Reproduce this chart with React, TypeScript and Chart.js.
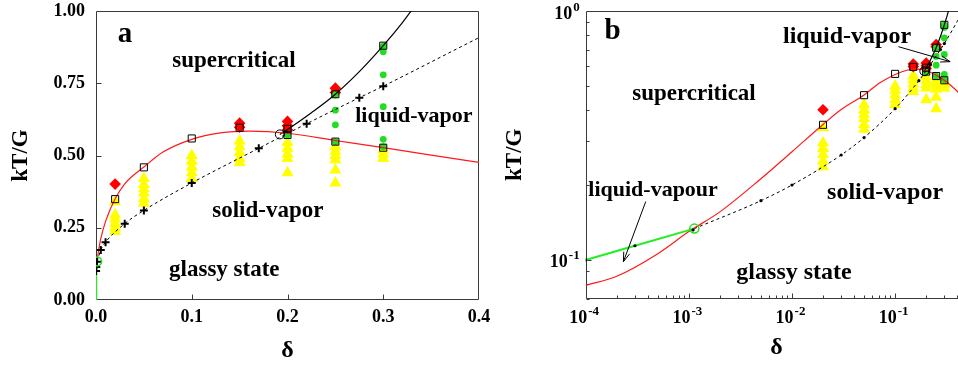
import React, { useEffect, useRef } from "react";
import { Chart, registerables } from "chart.js";

Chart.register(...registerables);

// ---------------- data (delta, kT/G) ----------------
const redDelta = [1e-4, 2e-4, 5e-4, 1e-3, 2e-3, 5e-3, 0.01, 0.02, 0.03, 0.05, 0.07, 0.1, 0.13, 0.16, 0.2, 0.25, 0.3, 0.35, 0.4, 0.5];
const redKT = [0.079, 0.086, 0.106, 0.13, 0.156, 0.212, 0.272, 0.35, 0.402, 0.46, 0.512, 0.556, 0.578, 0.584, 0.577, 0.552, 0.527, 0.501, 0.476, 0.43];

const blackDelta = [0.192, 0.2, 0.225, 0.25, 0.275, 0.3, 0.32, 0.34];
const blackKT = [0.573, 0.59, 0.648, 0.712, 0.79, 0.88, 0.96, 1.05];

const dashDelta = [1.13e-3, 5e-3, 0.01, 0.03, 0.05, 0.1, 0.17, 0.22, 0.275, 0.3, 0.4, 0.5];
const dashKT = [0.1336, 0.173, 0.2, 0.264, 0.31, 0.405, 0.525, 0.61, 0.7, 0.74, 0.908, 1.075];

const greenDelta = [0, 1e-4, 3e-4, 1.13e-3];
const greenKT = [0, 0.1, 0.114, 0.1336];

const plusDelta = [1e-4, 3e-4, 1.1e-3, 5e-3, 0.01, 0.03, 0.05, 0.1, 0.17, 0.22, 0.275, 0.3];
const plusKT = [0.1, 0.114, 0.132, 0.173, 0.2, 0.264, 0.31, 0.405, 0.525, 0.61, 0.7, 0.74];

const triDelta = [
  0.02, 0.02, 0.02, 0.02, 0.02, 0.02,
  0.05, 0.05, 0.05, 0.05, 0.05, 0.05,
  0.1, 0.1, 0.1, 0.1, 0.1,
  0.15, 0.15, 0.15, 0.15, 0.15,
  0.2, 0.2, 0.2, 0.2, 0.2,
  0.25, 0.25, 0.25, 0.25, 0.25, 0.25,
  0.3, 0.3, 0.3,
];
const triKT = [
  0.34, 0.295, 0.28, 0.265, 0.25, 0.237,
  0.42, 0.4, 0.385, 0.37, 0.35, 0.335,
  0.5, 0.48, 0.46, 0.44, 0.42,
  0.55, 0.53, 0.51, 0.49, 0.475,
  0.545, 0.525, 0.505, 0.49, 0.44,
  0.53, 0.515, 0.5, 0.485, 0.45, 0.405,
  0.52, 0.505, 0.49,
];

const diamondDelta = [0.02, 0.15, 0.15, 0.2, 0.2, 0.2, 0.25, 0.25];
const diamondKT = [0.401, 0.612, 0.598, 0.618, 0.603, 0.588, 0.733, 0.718];

const greenDotDelta = [0.2, 0.25, 0.25, 0.25, 0.25, 0.3, 0.3, 0.3, 0.3, 0.3, 0.3];
const greenDotKT = [0.571, 0.71, 0.657, 0.606, 0.548, 0.878, 0.859, 0.779, 0.669, 0.556, 0.53];

const squareDelta = [0.02, 0.05, 0.1, 0.15, 0.2, 0.2, 0.25, 0.25, 0.3, 0.3];
const squareKT = [0.349, 0.459, 0.559, 0.596, 0.592, 0.571, 0.712, 0.548, 0.88, 0.527];

const tripleDelta = [0.192];
const tripleKT = [0.573];

const greenCircleDelta = [1.13e-3];
const greenCircleKT = [0.1336];

// ticks
const xTickValuesA = [0, 0.1, 0.2, 0.3, 0.4];
const xTickLabelsA = ["0.0", "0.1", "0.2", "0.3", "0.4"];
const yTickValuesA = [0, 0.25, 0.5, 0.75, 1];
const yTickLabelsA = ["0.00", "0.25", "0.50", "0.75", "1.00"];
const xTickValuesB = [1e-4, 1e-3, 1e-2, 1e-1];
const xTickExpB = ["-4", "-3", "-2", "-1"];
const yTickValuesB = [0.1, 1];
const yTickExpB = ["-1", "0"];
const xMinorB = [2e-4, 3e-4, 4e-4, 5e-4, 6e-4, 7e-4, 8e-4, 9e-4, 2e-3, 3e-3, 4e-3, 5e-3, 6e-3, 7e-3, 8e-3, 9e-3, 0.02, 0.03, 0.04, 0.05, 0.06, 0.07, 0.08, 0.09, 0.2, 0.3, 0.4, 0.5];
const yMinorB = [0.07, 0.08, 0.09, 0.2, 0.3, 0.4, 0.5, 0.6, 0.7, 0.8, 0.9];

// annotations (data coordinates)
const labelsA = [
  { text: "a", x: 0.0303, y: 0.894, size: 29 },
  { text: "supercritical", x: 0.1441, y: 0.807, size: 23 },
  { text: "liquid-vapor", x: 0.332, y: 0.617, size: 22 },
  { text: "solid-vapor", x: 0.1795, y: 0.288, size: 23 },
  { text: "glassy state", x: 0.134, y: 0.083, size: 23 },
];
const labelsB = [
  { text: "b", x: 1.82e-4, y: 0.77, size: 29 },
  { text: "supercritical", x: 1.122e-3, y: 0.439, size: 23 },
  { text: "liquid-vapor", x: 0.0342, y: 0.746, size: 24 },
  { text: "liquid-vapour", x: 4.5e-4, y: 0.1807, size: 22 },
  { text: "solid-vapor", x: 0.08, y: 0.1758, size: 24 },
  { text: "glassy state", x: 0.01047, y: 0.0836, size: 24 },
];
const arrowsB = [
  { x1: 0.1076, y1: 0.719, x2: 0.3416, y2: 0.626 },
  { x1: 3.82e-4, y1: 0.1715, x2: 2.32e-4, y2: 0.0984 },
];

const FONT = "'Liberation Serif', 'Times New Roman', 'DejaVu Serif', serif";

type XY = { x: number; y: number };
const zip = (xs: number[], ys: number[], log: boolean): XY[] =>
  xs.map((x, i) => ({ x, y: ys[i] })).filter((p) => !log || p.x > 0);

function buildDatasets(log: boolean): any[] {
  const clear = "rgba(0,0,0,0)";
  return [
    {
      data: zip(greenCircleDelta, greenCircleKT, log), pointStyle: "circle", pointRadius: 4.5,
      borderColor: "#22dd22", backgroundColor: clear, borderWidth: 1.5, order: 0,
    },
    {
      data: zip(tripleDelta, tripleKT, log), pointStyle: "circle", pointRadius: 4.5,
      borderColor: "#000", backgroundColor: clear, borderWidth: 1, order: 1,
    },
    log
      ? {
          data: zip(plusDelta, plusKT, log), pointStyle: "circle", pointRadius: 1.6,
          borderColor: "#000", backgroundColor: "#000", borderWidth: 0, order: 2,
        }
      : {
          data: zip(plusDelta, plusKT, log), pointStyle: "cross", pointRadius: 4,
          borderColor: "#000", backgroundColor: "#000", borderWidth: 2, order: 2,
        },
    {
      data: zip(squareDelta, squareKT, log), pointStyle: "rect", pointRadius: 5,
      borderColor: "#000", backgroundColor: clear, borderWidth: 1, order: 3,
    },
    {
      data: zip(greenDelta, greenKT, log), showLine: true, pointRadius: 0,
      borderColor: "#22ee22", borderWidth: 2, order: 4,
    },
    {
      data: zip(redDelta, redKT, log), showLine: true, pointRadius: 0, cubicInterpolationMode: "monotone",
      borderColor: "#ff1a1a", borderWidth: 1.2, order: 5,
    },
    {
      data: zip(blackDelta, blackKT, log), showLine: true, pointRadius: 0, cubicInterpolationMode: "monotone",
      borderColor: "#000", borderWidth: 1.2, order: 6,
    },
    {
      data: zip(dashDelta, dashKT, log), showLine: true, pointRadius: 0, cubicInterpolationMode: "monotone",
      borderColor: "#000", borderWidth: 1, borderDash: [3, 3], order: 7,
    },
    {
      data: zip(greenDotDelta, greenDotKT, log), pointStyle: "circle", pointRadius: 3.4,
      borderColor: "#22dd22", backgroundColor: "#22dd22", borderWidth: 0, order: 8,
    },
    {
      data: zip(diamondDelta, diamondKT, log), pointStyle: "rectRot", pointRadius: 5.8,
      borderColor: "#ff0000", backgroundColor: "#ff0000", borderWidth: 0, order: 9,
    },
    {
      data: zip(triDelta, triKT, log), pointStyle: "triangle", pointRadius: 7,
      borderColor: "#ffff00", backgroundColor: "#ffff00", borderWidth: 0, order: 10,
    },
  ];
}

function drawPower(ctx: any, exp: string, x: number, y: number, align: "center" | "right") {
  ctx.font = `bold 18px ${FONT}`;
  const w1 = ctx.measureText("10").width;
  ctx.font = `bold 13px ${FONT}`;
  const w2 = ctx.measureText(exp).width;
  const total = w1 + 1 + w2;
  const start = align === "center" ? x - total / 2 : x - total;
  ctx.textAlign = "left";
  ctx.textBaseline = "alphabetic";
  ctx.font = `bold 18px ${FONT}`;
  ctx.fillText("10", start, y);
  ctx.font = `bold 13px ${FONT}`;
  ctx.fillText(exp, start + w1 + 1, y - 8);
}

const framePlugin = {
  id: "frame",
  beforeDatasetsDraw(chart: any, _args: any, o: any) {
    const { ctx, chartArea: ca } = chart;
    const xs = chart.scales.x;
    const ys = chart.scales.y;
    const L = Math.round(ca.left) + 0.5;
    const R = Math.round(ca.right) - 0.5;
    const T = Math.round(ca.top) + 0.5;
    const B = Math.round(ca.bottom) - 0.5;
    ctx.save();
    ctx.strokeStyle = "#3a3a3a";
    ctx.lineWidth = 1;
    ctx.beginPath();
    ctx.moveTo(L, T);
    ctx.lineTo(R, T);
    ctx.lineTo(R, B);
    ctx.lineTo(L, B);
    ctx.closePath();
    ctx.stroke();
    ctx.beginPath();
    const xt = (vals: number[], len: number) => {
      for (const v of vals) {
        const p = Math.round(xs.getPixelForValue(v)) + 0.5;
        ctx.moveTo(p, B);
        ctx.lineTo(p, B - len);
      }
    };
    const yt = (vals: number[], len: number) => {
      for (const v of vals) {
        const p = Math.round(ys.getPixelForValue(v)) + 0.5;
        ctx.moveTo(L, p);
        ctx.lineTo(L + len, p);
      }
    };
    xt(o.xMajor || [], 5);
    xt(o.xMinor || [], 3);
    yt(o.yMajor || [], 5);
    yt(o.yMinor || [], 3);
    ctx.stroke();
    ctx.fillStyle = "#000";
    if (o.powX) {
      o.powX.values.forEach((v: number, i: number) => {
        drawPower(ctx, o.powX.exps[i], xs.getPixelForValue(v) - 1.5, ca.bottom + 24.5, "center");
      });
    }
    if (o.powY) {
      o.powY.values.forEach((v: number, i: number) => {
        drawPower(ctx, o.powY.exps[i], ca.left - 6, ys.getPixelForValue(v) + 7.5, "right");
      });
    }
    ctx.restore();
  },
  afterDatasetsDraw(chart: any, _args: any, o: any) {
    const { ctx } = chart;
    const xs = chart.scales.x;
    const ys = chart.scales.y;
    ctx.save();
    ctx.fillStyle = "#000";
    ctx.textAlign = "center";
    ctx.textBaseline = "alphabetic";
    for (const lb of o.labels || []) {
      ctx.font = `bold ${lb.size}px ${FONT}`;
      ctx.fillText(lb.text, xs.getPixelForValue(lb.x), ys.getPixelForValue(lb.y));
    }
    ctx.strokeStyle = "#000";
    ctx.lineWidth = 1;
    for (const a of o.arrows || []) {
      const x1 = xs.getPixelForValue(a.x1);
      const y1 = ys.getPixelForValue(a.y1);
      const x2 = xs.getPixelForValue(a.x2);
      const y2 = ys.getPixelForValue(a.y2);
      const ang = Math.atan2(y2 - y1, x2 - x1);
      const h = 10;
      ctx.beginPath();
      ctx.moveTo(x1, y1);
      ctx.lineTo(x2, y2);
      ctx.moveTo(x2 - h * Math.cos(ang - 0.32), y2 - h * Math.sin(ang - 0.32));
      ctx.lineTo(x2, y2);
      ctx.lineTo(x2 - h * Math.cos(ang + 0.32), y2 - h * Math.sin(ang + 0.32));
      ctx.stroke();
    }
    ctx.restore();
  },
};

const tickFont = { family: FONT, size: 18, weight: "bold" as const };

const zeroPad = (s: any) => {
  s.paddingTop = 0;
  s.paddingBottom = 0;
  s.paddingLeft = 0;
  s.paddingRight = 0;
};

function configA(): any {
  return {
    type: "scatter",
    data: { datasets: buildDatasets(false) },
    plugins: [framePlugin],
    options: {
      responsive: false,
      animation: false,
      events: [],
      devicePixelRatio: 1,
      layout: { padding: { left: 0, top: 11, right: 21, bottom: 0 } },
      plugins: {
        legend: { display: false },
        tooltip: { enabled: false },
        frame: {
          xMajor: [0.1, 0.2, 0.3],
          yMajor: [0.25, 0.5, 0.75],
          labels: labelsA,
          arrows: [],
        },
      },
      scales: {
        x: {
          type: "linear",
          min: 0,
          max: 0.4,
          afterBuildTicks: (s: any) => {
            s.ticks = xTickValuesA.map((v) => ({ value: v }));
          },
          afterFit: (s: any) => {
            s.height = 66;
            zeroPad(s);
          },
          ticks: {
            callback: (_v: any, i: number) => xTickLabelsA[i],
            font: tickFont,
            color: "#000",
            padding: 6.5,
            maxRotation: 0,
            autoSkip: false,
          },
          grid: { display: false, drawTicks: false },
          border: { display: false },
          title: {
            display: true,
            text: "\u03B4",
            color: "#000",
            font: { family: FONT, size: 24, weight: "bold" },
            padding: { top: 0, bottom: 0.6 },
          },
        },
        y: {
          type: "linear",
          min: 0,
          max: 1,
          afterBuildTicks: (s: any) => {
            s.ticks = yTickValuesA.map((v) => ({ value: v }));
          },
          afterFit: (s: any) => {
            s.width = 96;
            zeroPad(s);
          },
          ticks: {
            callback: (_v: any, i: number) => yTickLabelsA[i],
            font: tickFont,
            color: "#000",
            padding: 11,
            autoSkip: false,
          },
          grid: { display: false, drawTicks: false },
          border: { display: false },
          title: {
            display: true,
            text: "kT/G",
            color: "#000",
            font: { family: FONT, size: 23, weight: "bold" },
            padding: { top: 7, bottom: 0 },
          },
        },
      },
    },
  };
}

function configB(): any {
  return {
    type: "scatter",
    data: { datasets: buildDatasets(true) },
    plugins: [framePlugin],
    options: {
      responsive: false,
      animation: false,
      events: [],
      devicePixelRatio: 1,
      layout: { padding: { left: 0, top: 11, right: 12.8, bottom: 0 } },
      plugins: {
        legend: { display: false },
        tooltip: { enabled: false },
        frame: {
          xMajor: [1e-3, 1e-2, 1e-1],
          xMinor: xMinorB,
          yMajor: [0.1],
          yMinor: yMinorB,
          labels: labelsB,
          arrows: arrowsB,
          powX: { values: xTickValuesB, exps: xTickExpB },
          powY: { values: yTickValuesB, exps: yTickExpB },
        },
      },
      scales: {
        x: {
          type: "logarithmic",
          min: 1e-4,
          max: 0.5,
          afterBuildTicks: (s: any) => {
            s.ticks = xTickValuesB.map((v) => ({ value: v }));
          },
          afterFit: (s: any) => {
            s.height = 67.5;
            zeroPad(s);
          },
          ticks: { display: false },
          grid: { display: false, drawTicks: false },
          border: { display: false },
          title: {
            display: true,
            text: "\u03B4",
            color: "#000",
            font: { family: FONT, size: 24, weight: "bold" },
            padding: { top: 0, bottom: 3.6 },
          },
        },
        y: {
          type: "logarithmic",
          min: 0.07,
          max: 1,
          afterBuildTicks: (s: any) => {
            s.ticks = yTickValuesB.map((v) => ({ value: v }));
          },
          afterFit: (s: any) => {
            s.width = 105.7;
            zeroPad(s);
          },
          ticks: { display: false },
          grid: { display: false, drawTicks: false },
          border: { display: false },
          title: {
            display: true,
            text: "kT/G",
            color: "#000",
            font: { family: FONT, size: 23, weight: "bold" },
            padding: { top: 21, bottom: 0 },
          },
        },
      },
    },
  };
}

function Panel({ make, left }: { make: () => any; left: number }) {
  const ref = useRef<HTMLCanvasElement>(null);
  useEffect(() => {
    const chart = new Chart(ref.current as HTMLCanvasElement, make());
    return () => chart.destroy();
  }, []);
  return (
    <canvas
      ref={ref}
      width={500}
      height={366}
      style={{ position: "absolute", left, top: 0, width: 500, height: 366 }}
    />
  );
}

export default function App() {
  return (
    <div
      style={{
        position: "fixed",
        left: 0,
        top: 0,
        width: 958,
        height: 366,
        overflow: "hidden",
        background: "#fff",
      }}
    >
      <Panel make={configA} left={0} />
      <Panel make={configB} left={480} />
    </div>
  );
}
